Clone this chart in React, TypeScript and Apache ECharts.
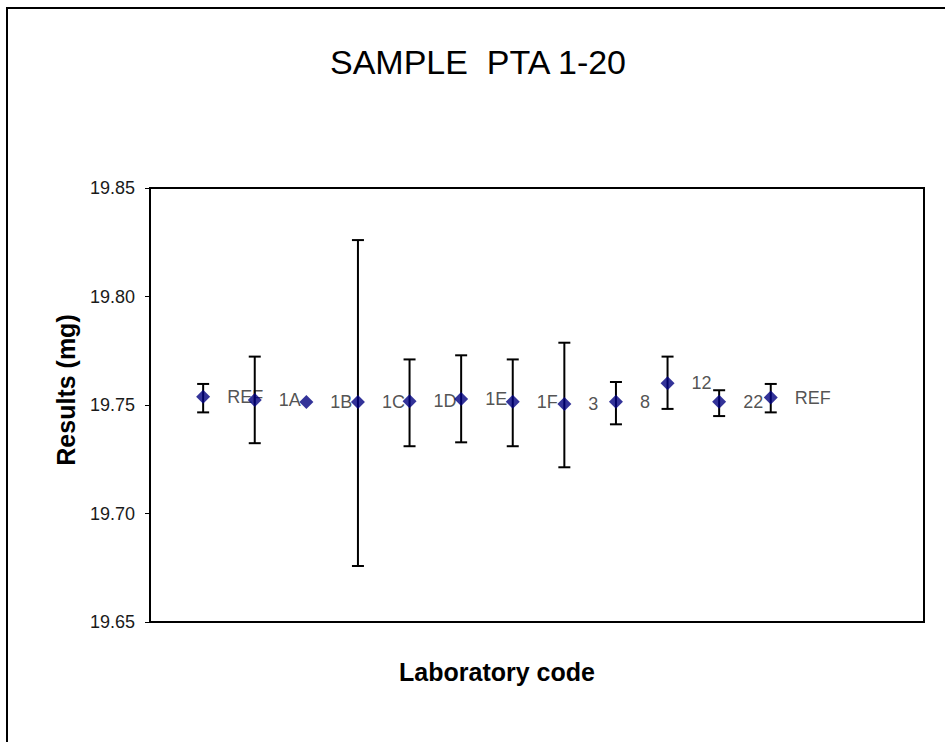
import React, { useEffect, useRef } from "react";
import * as echarts from "echarts";

const codes = ["REF", "1A", "1B", "1C", "1D", "1E", "1F", "3", "8", "12", "22", "REF"];
const positions = [1, 2, 3, 4, 5, 6, 7, 8, 9, 10, 11, 12];
const means = [19.7538, 19.7523, 19.7514, 19.7514, 19.7517, 19.7528, 19.7515, 19.7505, 19.7515, 19.76, 19.7515, 19.7534];
const lows = [19.7466, 19.7324, 19.7514, 19.6758, 19.731, 19.7328, 19.731, 19.7213, 19.7411, 19.7482, 19.7449, 19.7466];
const highs = [19.7597, 19.7723, 19.7514, 19.826, 19.771, 19.7729, 19.771, 19.7787, 19.7606, 19.7723, 19.7568, 19.7597];
const yTicks = [19.65, 19.7, 19.75, 19.8, 19.85];

const FONT = "'Liberation Sans', Arial, sans-serif";

export default function App() {
  const ref = useRef<HTMLDivElement>(null);
  useEffect(() => {
    if (!ref.current) return;
    const chart = echarts.init(ref.current, null, { renderer: "svg" });
    const pts = positions.map((x, i) => [x, means[i]]);
    const bars = positions.map((x, i) => [x, lows[i], highs[i]]);
    chart.setOption({
      animation: false,
      backgroundColor: "#fff",
      title: {
        text: "SAMPLE  PTA 1-20",
        left: 473,
        textAlign: "center",
        top: 40,
        textStyle: { fontFamily: FONT, fontSize: 34, fontWeight: "normal", color: "#000" },
      },
      graphic: [
        {
          type: "rect",
          shape: { x: 7, y: 8, width: 1000, height: 1000 },
          style: { fill: "none", stroke: "#000", lineWidth: 2 },
          silent: true,
        },
        {
          type: "text",
          x: 66,
          y: 390,
          rotation: Math.PI / 2,
          style: {
            text: "Results (mg)",
            fontFamily: FONT,
            fontSize: 25,
            fontWeight: "bold",
            fill: "#000",
            align: "center",
            verticalAlign: "middle",
          },
        },
        {
          type: "text",
          x: 497,
          y: 672,
          style: {
            text: "Laboratory code",
            fontFamily: FONT,
            fontSize: 25,
            fontWeight: "bold",
            fill: "#000",
            align: "center",
            verticalAlign: "middle",
          },
        },
      ],
      grid: {
        left: 150,
        top: 188,
        width: 774,
        height: 434,
        show: true,
        borderColor: "#000",
        borderWidth: 2,
        backgroundColor: "transparent",
      },
      xAxis: {
        type: "value",
        min: -0.03,
        max: 14.97,
        axisLine: { show: false },
        axisTick: { show: false },
        axisLabel: { show: false },
        splitLine: { show: false },
      },
      yAxis: {
        type: "value",
        min: yTicks[0],
        max: yTicks[yTicks.length - 1],
        interval: 0.05,
        axisLine: { show: false, onZero: false },
        axisTick: { show: true, length: 5, lineStyle: { color: "#000", width: 1 } },
        axisLabel: {
          fontFamily: FONT,
          fontSize: 18,
          color: "#1a1a1a",
          margin: 15,
          formatter: (v: number) => v.toFixed(2),
        },
        splitLine: { show: false },
      },
      series: [
        {
          type: "scatter",
          name: "labels",
          data: pts,
          symbol: "circle",
          symbolSize: 12,
          itemStyle: { color: "rgba(0,0,0,0)" },
          z: 1,
          silent: true,
          label: {
            show: true,
            position: "right",
            distance: 18,
            fontFamily: FONT,
            fontSize: 18,
            color: "#262626",
            formatter: (p: any) => codes[p.dataIndex],
          },
        },
        {
          type: "custom",
          name: "errors",
          data: bars,
          z: 2,
          encode: { x: 0, y: [1, 2] },
          renderItem: (params: any, api: any) => {
            const x = api.value(0);
            const top = api.coord([x, api.value(2)]);
            const bot = api.coord([x, api.value(1)]);
            if (Math.abs(top[1] - bot[1]) < 1) return { type: "group", children: [] };
            const hw = 6;
            const st = { stroke: "#000", lineWidth: 2 };
            return {
              type: "group",
              children: [
                { type: "line", shape: { x1: top[0], y1: top[1], x2: bot[0], y2: bot[1] }, style: st },
                { type: "line", shape: { x1: top[0] - hw, y1: top[1], x2: top[0] + hw, y2: top[1] }, style: st },
                { type: "line", shape: { x1: bot[0] - hw, y1: bot[1], x2: bot[0] + hw, y2: bot[1] }, style: st },
              ],
            };
          },
        },
        {
          type: "scatter",
          name: "results",
          data: pts,
          symbol: "diamond",
          symbolSize: [14, 14],
          itemStyle: { color: "#000080" },
          z: 3,
        },
      ],
    });
    return () => chart.dispose();
  }, []);
  return (
    <div
      ref={ref}
      style={{ position: "absolute", left: 0, top: 0, width: 945, height: 742 }}
    />
  );
}
